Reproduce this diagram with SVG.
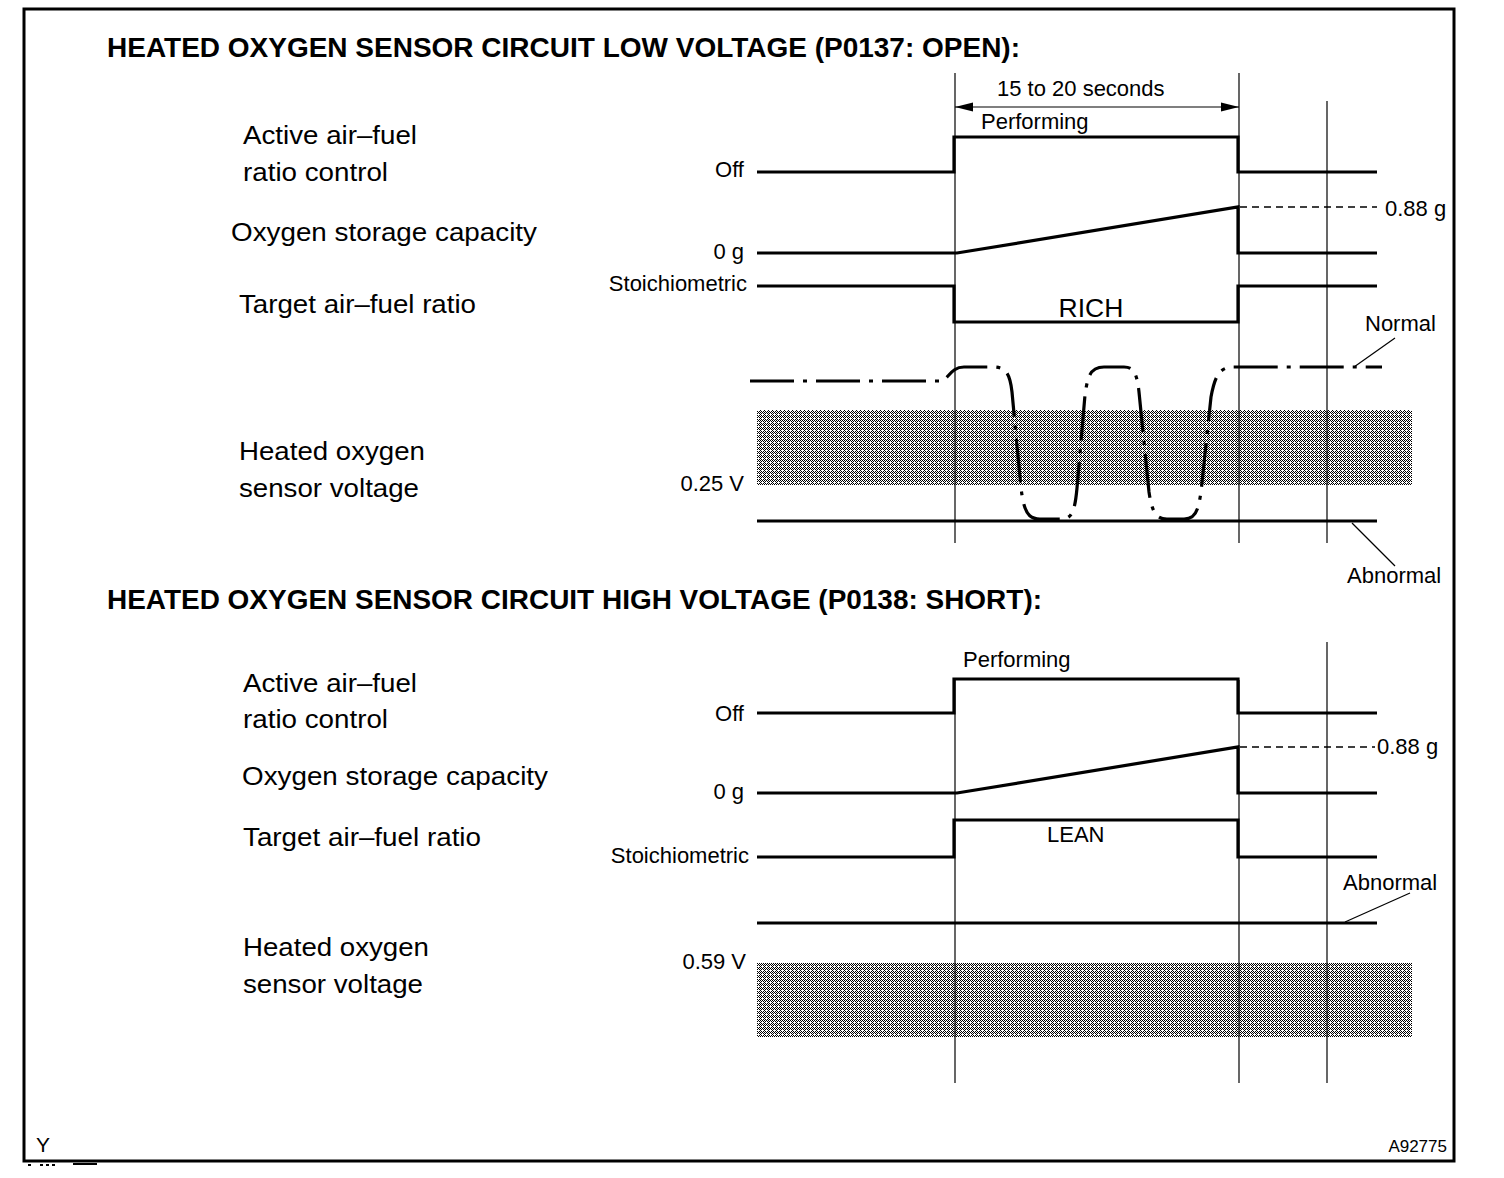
<svg xmlns="http://www.w3.org/2000/svg" width="1504" height="1178" viewBox="0 0 1504 1178">
<style>
text{font-family:"Liberation Sans",Arial,sans-serif;fill:#000}
.t{font-size:27px;font-weight:bold}
.l{font-size:26.5px}
.s{font-size:22px}
.e{text-anchor:end}
.w{fill:none;stroke:#000;stroke-width:3.2;stroke-linejoin:miter}
.v{stroke:#000;stroke-width:1.2;fill:none}
.d{stroke:#000;stroke-width:1.3;stroke-dasharray:7 5;fill:none}
.sh{fill:url(#dither)}
</style>
<defs>
<marker id="ah" viewBox="0 0 18 10" refX="18" refY="5" markerWidth="18" markerHeight="10" markerUnits="userSpaceOnUse" orient="auto-start-reverse">
<path d="M0 0.5 L18 5 L0 9.5 Z" fill="#000"/>
</marker>
<pattern id="dither" x="0" y="0" width="4" height="4" patternUnits="userSpaceOnUse">
<rect width="4" height="4" fill="#fff"/>
<g fill="#000" shape-rendering="crispEdges">
<rect x="0" y="0" width="1" height="1"/><rect x="2" y="0" width="1" height="1"/>
<rect x="1" y="1" width="1" height="1"/><rect x="3" y="1" width="1" height="1"/>
<rect x="0" y="2" width="1" height="1"/>
<rect x="1" y="3" width="1" height="1"/><rect x="3" y="3" width="1" height="1"/>
</g>
</pattern>
</defs>
<rect x="24" y="9" width="1430" height="1152" fill="#fff" stroke="#000" stroke-width="3"/>

<g id="top-section">
<text class="t" x="107" y="57" textLength="913" lengthAdjust="spacingAndGlyphs">HEATED OXYGEN SENSOR CIRCUIT LOW VOLTAGE (P0137: OPEN):</text>
<g id="top-labels">
<text class="l" x="243" y="144" textLength="174" lengthAdjust="spacingAndGlyphs">Active air–fuel</text>
<text class="l" x="243" y="181" textLength="145" lengthAdjust="spacingAndGlyphs">ratio control</text>
<text class="l" x="231" y="241" textLength="306" lengthAdjust="spacingAndGlyphs">Oxygen storage capacity</text>
<text class="l" x="239" y="313" textLength="237" lengthAdjust="spacingAndGlyphs">Target air–fuel ratio</text>
<text class="l" x="239" y="460" textLength="186" lengthAdjust="spacingAndGlyphs">Heated oxygen</text>
<text class="l" x="239" y="497" textLength="180" lengthAdjust="spacingAndGlyphs">sensor voltage</text>
<text class="s e" x="744" y="177">Off</text>
<text class="s e" x="744" y="259">0 g</text>
<text class="s e" x="747" y="291">Stoichiometric</text>
<text class="s e" x="744" y="491">0.25 V</text>
<text class="s" x="997" y="96">15 to 20 seconds</text>
<text class="s" x="981" y="129">Performing</text>
<text class="l" x="1091" y="317" text-anchor="middle">RICH</text>
<text class="s" x="1385" y="216">0.88 g</text>
<text class="s" x="1365" y="331">Normal</text>
<text class="s" x="1347" y="583">Abnormal</text>
</g>
<g id="top-shading"><rect class="sh" x="757" y="410" width="655" height="75"/></g>
<g id="top-connectors">
<line class="v" x1="955" y1="73" x2="955" y2="543"/>
<line class="v" x1="1239" y1="73" x2="1239" y2="543"/>
<line class="v" x1="1327" y1="101" x2="1327" y2="543"/>
<line class="v" x1="955" y1="107" x2="1239" y2="107" marker-start="url(#ah)" marker-end="url(#ah)"/>
<path class="w" d="M757 172 H954 V137 H1238 V172 H1377"/>
<path class="w" d="M757 253 H957 L1238 207 V253 H1377"/>
<path class="d" d="M1240 207 H1377"/>
<path class="w" d="M757 286 H954 V322 H1238 V286 H1377"/>
<path class="w" d="M757 521 H1377"/>
<path class="w" stroke-width="3.4" stroke-dasharray="44 9 4 9" d="M750 381 L940 381 C948 381 950 367 964 367 L993 367 C1006 367 1010 374 1012 392 L1021 488 C1024 512 1028 519 1040 519 L1062 519 C1072 519 1075 510 1077 488 L1085 395 C1088 373 1092 367 1104 367 L1124 367 C1134 367 1137 374 1139 392 L1149 492 C1152 512 1156 519 1167 519 L1184 519 C1195 519 1198 512 1201 492 L1211 397 C1215 375 1220 367 1234 367 L1382 367"/>
<line class="v" x1="1354" y1="367" x2="1395" y2="338" stroke-width="1.5"/>
<line class="v" x1="1352" y1="523" x2="1395" y2="566" stroke-width="1.5"/>
</g>
</g>

<g id="bottom-section">
<text class="t" x="107" y="609" textLength="935" lengthAdjust="spacingAndGlyphs">HEATED OXYGEN SENSOR CIRCUIT HIGH VOLTAGE (P0138: SHORT):</text>
<g id="bottom-labels">
<text class="l" x="243" y="692" textLength="174" lengthAdjust="spacingAndGlyphs">Active air–fuel</text>
<text class="l" x="243" y="728" textLength="145" lengthAdjust="spacingAndGlyphs">ratio control</text>
<text class="l" x="242" y="785" textLength="306" lengthAdjust="spacingAndGlyphs">Oxygen storage capacity</text>
<text class="l" x="243" y="846" textLength="238" lengthAdjust="spacingAndGlyphs">Target air–fuel ratio</text>
<text class="l" x="243" y="956" textLength="186" lengthAdjust="spacingAndGlyphs">Heated oxygen</text>
<text class="l" x="243" y="993" textLength="180" lengthAdjust="spacingAndGlyphs">sensor voltage</text>
<text class="s e" x="744" y="721">Off</text>
<text class="s e" x="744" y="799">0 g</text>
<text class="s e" x="749" y="863">Stoichiometric</text>
<text class="s e" x="746" y="969">0.59 V</text>
<text class="s" x="963" y="667">Performing</text>
<text class="s" x="1047" y="842">LEAN</text>
<text class="s" x="1377" y="754">0.88 g</text>
<text class="s" x="1343" y="890">Abnormal</text>
</g>
<g id="bottom-shading"><rect class="sh" x="757" y="963" width="655" height="74"/></g>
<g id="bottom-connectors">
<line class="v" x1="955" y1="680" x2="955" y2="1083"/>
<line class="v" x1="1239" y1="680" x2="1239" y2="1083"/>
<line class="v" x1="1327" y1="642" x2="1327" y2="1083"/>
<path class="w" d="M757 713 H954 V679 H1238 V713 H1377"/>
<path class="w" d="M757 793 H957 L1238 747 V793 H1377"/>
<path class="d" d="M1240 747 H1375"/>
<path class="w" d="M757 857 H954 V820 H1238 V857 H1377"/>
<path class="w" d="M757 923 H1377"/>
<line class="v" x1="1345" y1="922" x2="1410" y2="893" stroke-width="1.5"/>
</g>
</g>

<g id="footer">
<text x="36" y="1152" style="font-size:21px">Y</text>
<text x="1447" y="1152" class="e" style="font-size:17px">A92775</text>
<g fill="#000"><rect x="28" y="1164" width="3" height="2"/><rect x="40" y="1164" width="3" height="2"/><rect x="46" y="1164" width="3" height="2"/><rect x="52" y="1164" width="3" height="2"/><rect x="73" y="1163" width="24" height="2"/></g>
</g>
</svg>
